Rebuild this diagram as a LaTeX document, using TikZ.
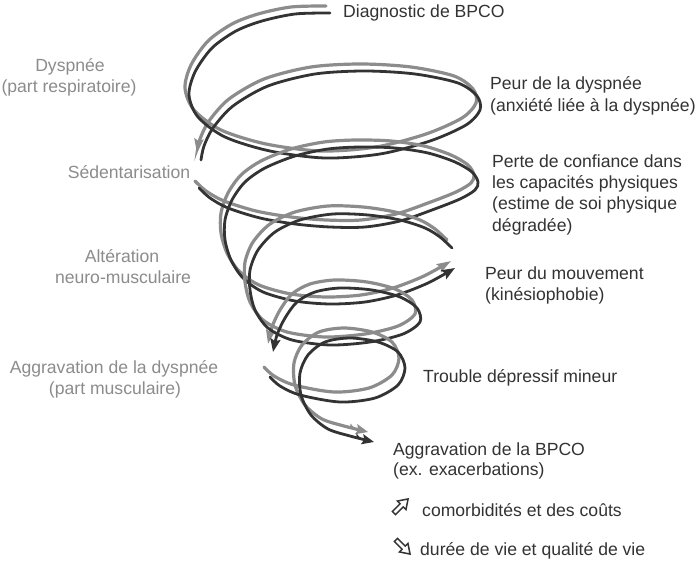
\documentclass[tikz,border=0pt]{standalone}
\usepackage{fontspec}
\setmainfont{Liberation Sans}
\usetikzlibrary{arrows.meta}
\definecolor{lightg}{HTML}{8C8C8C}
\definecolor{darkg}{HTML}{333333}
\definecolor{ltext}{HTML}{8C8C8C}
\definecolor{dtext}{HTML}{333333}
\newcommand\helixpiece[4]{%
  \draw[lightstrand,shift={#1},#2] plot[smooth] coordinates {#4};
  \draw[darkstrand,#3] plot[smooth] coordinates {#4};}
\begin{document}
\begin{tikzpicture}[x=1pt,y=-1pt,
  lightstrand/.style={draw=lightg, line width=3.2pt, line cap=round},
  darkstrand/.style={draw=darkg, line width=2.8pt, line cap=round},
  ltip/.style={-{Stealth[length=14pt,width=9pt,inset=2pt]}},
  dtip/.style={-{Stealth[length=13pt,width=10pt,inset=2pt]}},
  endtip/.style={-{Stealth[left,length=6pt,width=8pt,inset=1pt]Stealth[length=12pt,width=10pt,inset=2pt]}},
  lbl/.style={inner sep=0pt, font=\fontsize{17.6}{21}\selectfont},
  leftlbl/.style={lbl, text=ltext, anchor=base},
  rightlbl/.style={lbl, text=dtext, anchor=base west},
  icon/.style={draw=dtext, line width=1.5pt, line join=miter},
]
\useasboundingbox[fill=white] (0,0) rectangle (700,561);

% piece A : from the diagnosis to the first break (left)
\helixpiece{(-4,-7)}{ltip}{}{(330,13) (295,14) (262,21) (236,31) (212,48) (195,72) (189,95) (198,117) (225,137) (270,151) (325,158) (380,154) (430,141) (466,125) (480,110) (477,96) (458,83) (415,74) (365,71) (315,74) (268,86) (233,106) (213,128) (204,146) (201,160)}

% piece B : from the first break to the right break
\helixpiece{(-4,-7)}{ltip}{dtip}{(199,188) (210,198) (228,208) (260,218) (295,224) (330,227) (365,227) (400,221) (432,210) (460,199) (475,190) (478,182) (472,172) (455,162) (428,153) (395,148) (360,147) (328,149) (295,156) (265,168) (245,182) (232,200) (225,220) (225,240) (231,260) (243,278) (263,292) (295,301) (330,304) (365,302) (397,295) (428,283) (455,268)}

% piece C : from the right break to the second left break
\helixpiece{(-5,-8)}{ltip}{dtip}{(452,248) (440,237) (425,228) (400,220) (368,215) (333,214) (300,220) (275,232) (258,250) (250,270) (250,290) (255,310) (268,328) (292,340) (330,345) (370,342) (403,334) (420,322) (417,308) (400,297) (372,290) (340,288) (315,292) (297,302) (285,318) (277,335) (273,352)}

% piece D : last loop and tail
\helixpiece{(-6,-10)}{endtip}{endtip}{(270,377) (280,386) (300,395) (340,402) (375,398) (398,385) (405,368) (398,352) (378,342) (350,338) (325,342) (308,355) (300,373) (301,395) (311,415) (328,429) (350,436) (374,442)}

% left labels
\node[leftlbl] (dysp1) at (70,72) {Dyspnée};
\node[leftlbl] (dysp2) at (69,93) {(part respiratoire)};
\node[leftlbl] (sed) at (129,179) {Sédentarisation};
\node[leftlbl] (alt1) at (122,262) {Altération};
\node[leftlbl] (alt2) at (123,283) {neuro-musculaire};
\node[leftlbl] (agg1) at (114,373) {Aggravation de la dyspnée};
\node[leftlbl] (agg2) at (115,394) {(part musculaire)};

% right labels
\node[rightlbl] (diag) at (343,18) {Diagnostic de BPCO};
\node[rightlbl] (peur1) at (490,90) {Peur de la dyspnée};
\node[rightlbl] (peur2) at (490,111.5) {(anxiété liée à la dyspnée)};
\node[rightlbl] (perte1) at (492,167.5) {Perte de confiance dans};
\node[rightlbl] (perte2) at (492,189) {les capacités physiques};
\node[rightlbl] (perte3) at (492,210) {(estime de soi physique};
\node[rightlbl] (perte4) at (492,231.5) {dégradée)};
\node[rightlbl] (mouv1) at (485,279) {Peur du mouvement};
\node[rightlbl] (mouv2) at (485,300.5) {(kinésiophobie)};
\node[rightlbl] (trouble) at (423,382) {Trouble dépressif mineur};
\node[rightlbl] (bpco1) at (393,455) {Aggravation de la BPCO};
\node[rightlbl] (bpco2) at (393,475.5) {(ex. exacerbations)};

% legend
\draw[icon, shift={(401,506)}, rotate=45] (-10,-2.2) -- (1,-2.2) -- (1,-6) -- (10,0) -- (1,6) -- (1,2.2) -- (-10,2.2) -- cycle;
\node[rightlbl] (leg1) at (422,516) {comorbidités et des coûts};
\draw[icon, shift={(403,547)}, rotate=-45] (-10,-2.2) -- (1,-2.2) -- (1,-6) -- (10,0) -- (1,6) -- (1,2.2) -- (-10,2.2) -- cycle;
\node[rightlbl] (leg2) at (420,555) {durée de vie et qualité de vie};
\end{tikzpicture}
\end{document}
